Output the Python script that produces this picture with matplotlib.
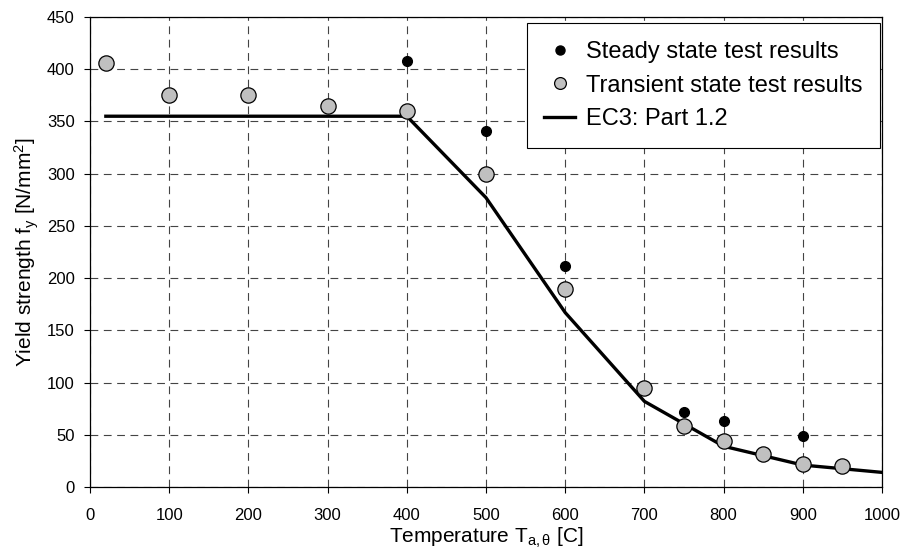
import numpy as np
import matplotlib
matplotlib.use('Agg')
import matplotlib.pyplot as plt

plt.rcParams['font.family'] = ['Liberation Sans', 'DejaVu Sans']
plt.rcParams['mathtext.fontset'] = 'custom'
plt.rcParams['mathtext.rm'] = 'Liberation Sans'
plt.rcParams['mathtext.it'] = 'Liberation Sans'

# steady state tests (small black dots)
steady_T = [400, 500, 600, 750, 800, 900]
steady_fy = [408, 341, 212, 72, 63, 49]

# transient state tests (grey circles)
trans_T = [20, 100, 200, 300, 400, 500, 600, 700, 750, 800, 850, 900, 950]
trans_fy = [406, 375, 375, 365, 360, 300, 190, 95, 58, 44, 32, 22, 20]

# EC3 part 1.2 reduction curve, fy = 355
ec3_T = [20, 400, 500, 600, 700, 800, 900, 1000]
ec3_fy = [355, 355, 277, 167, 82, 39, 21, 14]

fig = plt.figure(figsize=(9.04, 5.54), dpi=100)
ax = fig.add_axes([90/904, 1 - 487/554, 792/904, 470/554])

ax.plot(ec3_T, ec3_fy, color='black', lw=2.4, zorder=3, label='EC3: Part 1.2')
ax.plot(steady_T, steady_fy, 'o', color='black', ms=7, zorder=4,
        label='Steady state test results')
ax.plot(trans_T, trans_fy, 'o', mfc='#c0c0c0', mec='black', mew=0.9, ms=11,
        zorder=4, label='Transient state test results')

ax.set_xlim(0, 1000)
ax.set_ylim(0, 450)
ax.set_xticks(np.arange(0, 1001, 100))
ax.set_yticks(np.arange(0, 451, 50))
ax.tick_params(labelsize=12, length=4, width=0.8)
ax.tick_params(axis='x', pad=11)
ax.tick_params(axis='y', pad=7)
ax.grid(True, color='#444444', ls=(0, (7, 5)), lw=0.8)
for s in ax.spines.values():
    s.set_linewidth(0.9)

ax.set_xlabel(r'Temperature T$_{\mathregular{a,\theta}}$ [C]', fontsize=15, labelpad=2)
ax.set_ylabel(r'Yield strength f$_\mathregular{y}$ [N/mm$^\mathregular{2}$]', fontsize=15)

# legend order: steady, transient, EC3
h, l = ax.get_legend_handles_labels()
order = [1, 2, 0]
leg = ax.legend([h[i] for i in order], [l[i] for i in order], loc='upper right',
                bbox_to_anchor=(0.9975, 0.987), borderaxespad=0, fontsize=17,
                fancybox=False, edgecolor='black', framealpha=1,
                handlelength=1.3, handletextpad=0.45, labelspacing=0.5,
                borderpad=0.75)
leg.get_frame().set_linewidth(0.8)
leg.legend_handles[0].set_markersize(6.5)
leg.legend_handles[1].set_markersize(8.5)

fig.savefig('out.png', dpi=100)
